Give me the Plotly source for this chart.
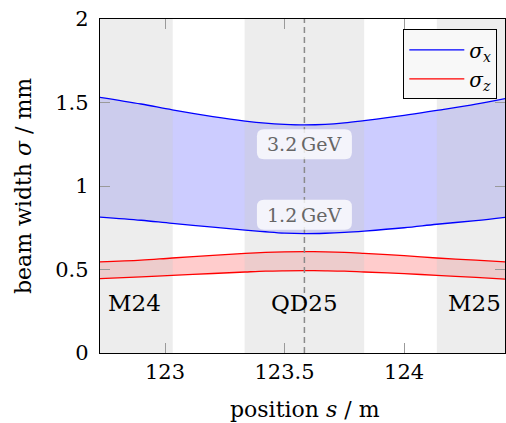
import plotly.graph_objects as go

# Longitudinal position along the beamline (m)
position_s = [122.72, 122.9, 123.03, 123.2, 123.335, 123.42, 123.5, 123.583,
              123.67, 123.75, 123.833, 124.0, 124.137, 124.3, 124.43]

# Horizontal beam width sigma_x (mm) at 3.2 GeV and 1.2 GeV
sigma_x_high = [1.533, 1.491, 1.456, 1.416, 1.389, 1.376, 1.369, 1.366,
                1.369, 1.378, 1.392, 1.423, 1.453, 1.490, 1.526]
sigma_x_low = [0.815, 0.795, 0.776, 0.754, 0.736, 0.726, 0.718, 0.715,
               0.717, 0.722, 0.730, 0.750, 0.771, 0.793, 0.814]

# Longitudinal beam width sigma_z (mm) at the two energies
sigma_z_high = [0.545, 0.556, 0.569, 0.584, 0.597, 0.603, 0.606, 0.607,
                0.606, 0.603, 0.597, 0.583, 0.569, 0.556, 0.545]
sigma_z_low = [0.445, 0.456, 0.465, 0.476, 0.485, 0.490, 0.492, 0.493,
               0.492, 0.490, 0.485, 0.475, 0.465, 0.453, 0.442]

# Magnet elements: name, start, end (m)
elements = ["M24", "QD25", "M25"]
element_start = [122.5, 123.333, 124.137]
element_end = [123.032, 123.833, 124.6]
element_label_x = [122.874, 123.583, 124.295]
element_label_y = 0.3

quad_center = 123.583

energy_labels = ["3.2\u2009GeV", "1.2\u2009GeV"]
energy_label_y = [1.25, 0.828]

x_range = [122.728, 124.422]
y_range = [0, 2]
x_ticks = [123, 123.5, 124]
x_ticktext = ["123", "123.5", "124"]
y_ticks = [0, 0.5, 1, 1.5, 2]
y_ticktext = ["0", "0.5", "1", "1.5", "2"]

FONT = "'DejaVu Serif', serif"
BLUE = "#0000ff"
RED = "#ff0000"

fig = go.Figure()

# shaded envelopes between the two energies
for lo, hi, fc in [(sigma_x_low, sigma_x_high, "rgba(0,0,255,0.2)"),
                   (sigma_z_low, sigma_z_high, "rgba(255,0,0,0.2)")]:
    fig.add_trace(go.Scatter(x=position_s, y=lo, mode="lines",
                             line=dict(width=0, shape="spline"),
                             showlegend=False, hoverinfo="skip"))
    fig.add_trace(go.Scatter(x=position_s, y=hi, mode="lines", fill="tonexty",
                             fillcolor=fc, line=dict(width=0, shape="spline"),
                             showlegend=False, hoverinfo="skip"))

# magnet regions shaded on top of the envelopes (darkening overlay)
for a, b in zip(element_start, element_end):
    fig.add_trace(go.Scatter(x=[a, b, b, a, a],
                             y=[y_range[0], y_range[0], y_range[1], y_range[1], y_range[0]],
                             mode="lines", fill="toself",
                             fillcolor="rgba(204,204,204,0.353)",
                             line=dict(width=0), showlegend=False,
                             hoverinfo="skip"))

# envelope boundary lines
curves = [(sigma_x_high, BLUE, "<i>σ</i><sub><i>x</i></sub>", True),
          (sigma_x_low, BLUE, None, False),
          (sigma_z_high, RED, "<i>σ</i><sub><i>z</i></sub>", True),
          (sigma_z_low, RED, None, False)]
for ys, col, name, leg in curves:
    fig.add_trace(go.Scatter(x=position_s, y=ys, mode="lines", name=name,
                             line=dict(color=col, width=1.3, shape="spline"),
                             showlegend=leg))

shapes = [dict(type="line", xref="x", yref="y", x0=quad_center, x1=quad_center,
               y0=y_range[0], y1=y_range[1], layer="above",
               line=dict(color="#8a8a8a", width=1.5, dash="6px,4px"))]

# rounded label boxes (pixel-sized, anchored in data space)
w, h, r = 47.5, 15, 7
box_path = (f"M {-w + r},{-h} L {w - r},{-h} Q {w},{-h} {w},{-h + r} "
            f"L {w},{h - r} Q {w},{h} {w - r},{h} L {-w + r},{h} "
            f"Q {-w},{h} {-w},{h - r} L {-w},{-h + r} Q {-w},{-h} {-w + r},{-h} Z")
for yl in energy_label_y:
    shapes.append(dict(type="path", xref="x", yref="y", xsizemode="pixel",
                       ysizemode="pixel", xanchor=quad_center, yanchor=yl,
                       path=box_path, fillcolor="rgba(255,255,255,0.78)",
                       line=dict(width=0), layer="above"))

annotations = []
for txt, yl in zip(energy_labels, energy_label_y):
    annotations.append(dict(x=quad_center, y=yl, xref="x", yref="y", text=txt,
                            showarrow=False, font=dict(family=FONT, size=19, color="#666666"),
                            xanchor="center", yanchor="middle"))
for name, xl in zip(elements, element_label_x):
    annotations.append(dict(x=xl, y=element_label_y, xref="x", yref="y", text=name,
                            showarrow=False, font=dict(family=FONT, size=23, color="black"),
                            xanchor="center", yanchor="middle"))

# axis titles
annotations.append(dict(x=0.506, y=-0.169, xref="paper", yref="paper",
                        text="position <i>s</i> / m", showarrow=False,
                        font=dict(family=FONT, size=22, color="black"),
                        xanchor="center", yanchor="middle"))
annotations.append(dict(x=-0.19, y=0.5, xref="paper", yref="paper",
                        text="beam width <i>σ</i> / mm", showarrow=False, textangle=-90,
                        font=dict(family=FONT, size=22, color="black"),
                        xanchor="center", yanchor="middle"))

axis_common = dict(showline=True, linecolor="black", linewidth=1.3, mirror="ticks",
                   ticks="inside", ticklen=10, tickwidth=1.3, tickcolor="#9a9a9a",
                   showgrid=False, zeroline=False,
                   tickfont=dict(family=FONT, size=21, color="black"))

fig.update_layout(
    width=506, height=423,
    margin=dict(l=100, r=1, t=19, b=70),
    paper_bgcolor="white", plot_bgcolor="white",
    font=dict(family=FONT),
    xaxis=dict(range=x_range, tickmode="array", tickvals=x_ticks, ticktext=x_ticktext,
               **axis_common),
    yaxis=dict(range=y_range, tickmode="array", tickvals=y_ticks, ticktext=y_ticktext,
               ticklabelstandoff=6, **axis_common),
    shapes=shapes,
    annotations=annotations,
    legend=dict(x=0.981, y=0.969, xanchor="right", yanchor="top",
                bgcolor="#f8f8f8", bordercolor="black", borderwidth=1,
                font=dict(family=FONT, size=20, color="black"),
                traceorder="normal", tracegroupgap=0, itemwidth=55),
    showlegend=True,
)

fig.write_html("out.html")
